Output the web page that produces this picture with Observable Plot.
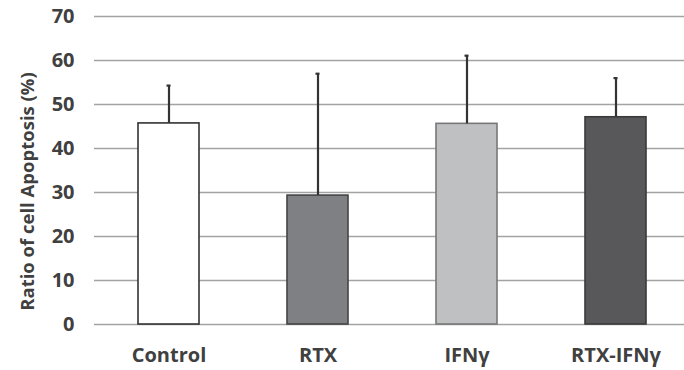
<!DOCTYPE html>
<html>
<head>
<meta charset="utf-8">
<script src="https://cdn.jsdelivr.net/npm/d3@7"></script>
<script src="https://cdn.jsdelivr.net/npm/@observablehq/plot@0.6"></script>
<style>
  html, body { margin: 0; padding: 0; background: #fff; }
  svg { display: block; font-family: "Open Sans", sans-serif; }
</style>
</head>
<body>
<div id="chart"></div>
<script>
const groups = ["Control", "RTX", "IFNγ", "RTX-IFNγ"];
const means = [45.7, 29.3, 45.6, 47.1];
const sds = [8.6, 27.7, 15.5, 8.9];
const fills = ["#ffffff", "#7f8083", "#bfc0c2", "#58585a"];
const strokes = ["#333333", "#444444", "#777777", "#3a3a3a"];
const yTicks = [0, 10, 20, 30, 40, 50, 60, 70];
const yLabel = "Ratio of cell Apoptosis (%)";

const data = groups.map((g, i) => ({group: g, mean: means[i], top: means[i] + sds[i], fill: fills[i], stroke: strokes[i]}));

const chart = Plot.plot({
  width: 684,
  height: 370,
  marginTop: 16,
  marginBottom: 46,
  marginLeft: 94,
  marginRight: 0,
  style: {fontFamily: "'Open Sans', sans-serif", background: "#fff"},
  x: {domain: groups, range: [94, 691], paddingInner: 0.59, paddingOuter: 0.295, label: null},
  y: {domain: [0, 70], label: null},
  marks: [
    Plot.ruleY(yTicks, {stroke: "#a3a3a3", strokeWidth: 1.6}),
    Plot.barY(data, {x: "group", y: "mean", fill: "fill", stroke: "stroke", strokeWidth: 1.6}),
    Plot.ruleX(data, {x: "group", y1: "mean", y2: "top", stroke: "#333", strokeWidth: 2.2}),
    Plot.tickY(data, {x: "group", y: "top", stroke: "#333", strokeWidth: 2.2, insetLeft: 28.5, insetRight: 28.5}),
    Plot.axisY(yTicks, {tickSize: 0, tickPadding: 20, fontSize: 20, fontWeight: "bold", fill: "#404040", label: null}),
    Plot.axisX({tickSize: 0, tickPadding: 23, fontSize: 20, fontWeight: "bold", fill: "#404040", label: null}),
    Plot.text([yLabel], {frameAnchor: "left", textAnchor: "middle", rotate: -90, dx: -66, dy: 21, fontSize: 18.5, fontWeight: "bold", fill: "#404040"})
  ]
});
document.getElementById("chart").append(chart);
</script>
</body>
</html>
